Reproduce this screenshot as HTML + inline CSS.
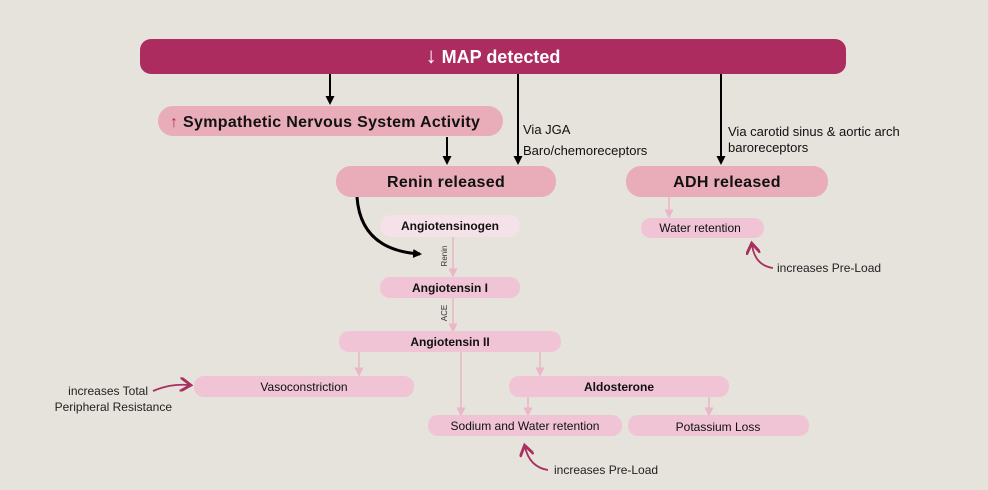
<!DOCTYPE html>
<html><head><meta charset="utf-8"><style>
body{margin:0;background:#e6e2dc;}
svg{display:block;font-family:"Liberation Sans",sans-serif;}
</style></head><body>
<svg width="988" height="490" viewBox="0 0 988 490" xmlns="http://www.w3.org/2000/svg">
<defs>
<marker id="ab" markerUnits="userSpaceOnUse" markerWidth="10" markerHeight="10" refX="7" refY="5" orient="auto"><path d="M0,0.5 L9,5 L0,9.5z" fill="#000"/></marker>
<marker id="ap" markerWidth="6" markerHeight="6" refX="3" refY="3" orient="auto"><path d="M0,0 L6,3 L0,6z" fill="#eab6c8"/></marker>
<marker id="am" markerWidth="8" markerHeight="8" refX="5" refY="4" orient="auto"><path d="M0,0 L6,4 L0,8" fill="none" stroke="#a8305e" stroke-width="1.6"/></marker>
</defs>
<rect width="988" height="490" fill="#e6e2dc"/>
<rect x="140" y="39" width="706" height="35" rx="11" fill="#ad2c5f"/>
<text x="493" y="63" text-anchor="middle" font-size="18" font-weight="bold" fill="#fff"><tspan font-size="22">↓</tspan> MAP detected</text>
<g stroke="#000" stroke-width="2" fill="none">
<line x1="330" y1="74" x2="330" y2="103" marker-end="url(#ab)"/>
<line x1="447" y1="137" x2="447" y2="163" marker-end="url(#ab)"/>
<line x1="518" y1="74" x2="518" y2="163" marker-end="url(#ab)"/>
<line x1="721" y1="74" x2="721" y2="163" marker-end="url(#ab)"/>
<path d="M357,197 C360,240 390,252 420,254" stroke-width="3" marker-end="url(#ab)"/>
</g>
<rect x="158" y="106" width="345" height="30" rx="15" fill="#e8adb8"/>
<text x="170" y="127" font-size="16" font-weight="bold" letter-spacing="0.3" fill="#111"><tspan fill="#ad2c5f">↑</tspan> Sympathetic Nervous System Activity</text>
<text x="523" y="134" font-size="13" fill="#111">Via JGA</text>
<text x="523" y="155" font-size="13" fill="#111">Baro/chemoreceptors</text>
<text x="728" y="136" font-size="13" fill="#111">Via carotid sinus &amp; aortic arch</text>
<text x="728" y="152" font-size="13" fill="#111">baroreceptors</text>
<rect x="336" y="166" width="220" height="31" rx="15" fill="#e8adb8"/>
<text x="446" y="187" text-anchor="middle" font-size="16" font-weight="bold" letter-spacing="0.3" fill="#111">Renin released</text>
<rect x="626" y="166" width="202" height="31" rx="15" fill="#e8adb8"/>
<text x="727" y="187" text-anchor="middle" font-size="16" font-weight="bold" letter-spacing="0.3" fill="#111">ADH released</text>
<g stroke="#eab6c8" stroke-width="1.5" fill="none">
<line x1="453" y1="237" x2="453" y2="273" marker-end="url(#ap)"/>
<line x1="453" y1="298" x2="453" y2="328" marker-end="url(#ap)"/>
<line x1="359" y1="352" x2="359" y2="372" marker-end="url(#ap)"/>
<line x1="461" y1="352" x2="461" y2="412" marker-end="url(#ap)"/>
<line x1="540" y1="352" x2="540" y2="372" marker-end="url(#ap)"/>
<line x1="528" y1="397" x2="528" y2="412" marker-end="url(#ap)"/>
<line x1="709" y1="397" x2="709" y2="412" marker-end="url(#ap)"/>
<line x1="669" y1="197" x2="669" y2="214" marker-end="url(#ap)"/>
</g>
<text transform="translate(447,256) rotate(-90)" text-anchor="middle" font-size="8" fill="#333">Renin</text>
<text transform="translate(447,313) rotate(-90)" text-anchor="middle" font-size="8" fill="#333">ACE</text>
<rect x="380" y="215" width="140" height="22" rx="11" fill="#f5e1e8"/>
<text x="450" y="230" text-anchor="middle" font-size="12" font-weight="bold" fill="#111">Angiotensinogen</text>
<rect x="380" y="277" width="140" height="21" rx="10" fill="#f0c4d4"/>
<text x="450" y="292" text-anchor="middle" font-size="12" font-weight="bold" fill="#111">Angiotensin I</text>
<rect x="339" y="331" width="222" height="21" rx="10" fill="#f0c4d4"/>
<text x="450" y="346" text-anchor="middle" font-size="12" font-weight="bold" fill="#111">Angiotensin II</text>
<rect x="194" y="376" width="220" height="21" rx="10" fill="#f0c4d4"/>
<text x="304" y="391" text-anchor="middle" font-size="12" fill="#111">Vasoconstriction</text>
<rect x="509" y="376" width="220" height="21" rx="10" fill="#f0c4d4"/>
<text x="619" y="391" text-anchor="middle" font-size="12" font-weight="bold" fill="#111">Aldosterone</text>
<rect x="428" y="415" width="194" height="21" rx="10" fill="#f0c4d4"/>
<text x="525" y="430" text-anchor="middle" font-size="12" fill="#111">Sodium and Water retention</text>
<rect x="628" y="415" width="181" height="21" rx="10" fill="#f0c4d4"/>
<text x="718" y="431" text-anchor="middle" font-size="12" fill="#111">Potassium Loss</text>
<rect x="641" y="218" width="123" height="20" rx="10" fill="#f0c4d4"/>
<text x="700" y="232" text-anchor="middle" font-size="12" fill="#111">Water retention</text>
<g stroke="#a8305e" stroke-width="1.8" fill="none">
<path d="M153,391 C165,386 175,384 189,385" marker-end="url(#am)"/>
<path d="M773,268 C760,266 754,258 752,245" marker-end="url(#am)"/>
<path d="M548,470 C535,468 528,460 525,447" marker-end="url(#am)"/>
</g>
<text x="148" y="395" text-anchor="end" font-size="12" fill="#222">increases Total</text>
<text x="172" y="411" text-anchor="end" font-size="12" fill="#222">Peripheral Resistance</text>
<text x="777" y="272" font-size="12" fill="#222">increases Pre-Load</text>
<text x="554" y="474" font-size="12" fill="#222">increases Pre-Load</text>
</svg>
</body></html>
